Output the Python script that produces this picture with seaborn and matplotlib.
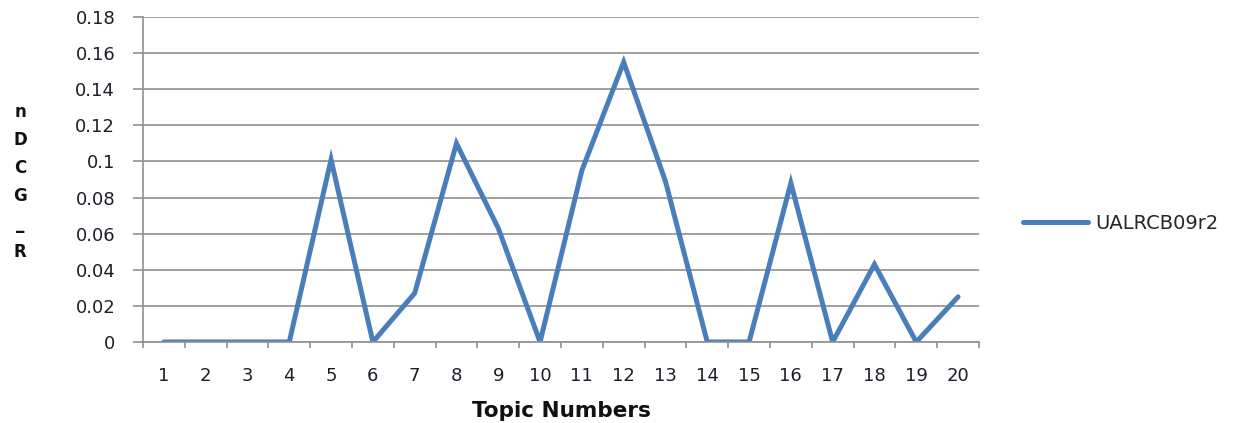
import matplotlib
matplotlib.use("Agg")
import matplotlib.pyplot as plt
import seaborn as sns
import pandas as pd
from matplotlib.ticker import FixedLocator, MultipleLocator

topics = list(range(1, 21))
ndcg_r = [0, 0, 0, 0, 0.101, 0, 0.027, 0.110, 0.063, 0,
          0.095, 0.155, 0.089, 0, 0, 0.088, 0, 0.043, 0, 0.025]
series_name = "UALRCB09r2"

df = pd.DataFrame({"topic": topics, "value": ndcg_r, "run": series_name})

sns.set_style("white")
plt.rcParams["font.family"] = ["DejaVu Sans"]

fig = plt.figure(figsize=(12.53, 4.23), dpi=100)
ax = fig.add_axes([0.1141, 0.1915, 0.6672, 0.7683])

line_color = "#4A7EBB"
grid_color = "#909090"
text_color = "#1E1E2A"

sns.lineplot(data=df, x="topic", y="value", hue="run", palette=[line_color],
             linewidth=3.6, ax=ax, legend=False, solid_joinstyle="miter")

ax.set_xlim(0.5, 20.5)
ax.set_ylim(0, 0.18)
ax.yaxis.set_major_locator(MultipleLocator(0.02))
ax.set_yticklabels([f"{v:g}" for v in ax.get_yticks()])
ax.yaxis.grid(True, color=grid_color, linewidth=1.2)
ax.set_axisbelow(True)

ax.set_xticks(topics)
ax.set_xticklabels([str(t) for t in topics])
ax.xaxis.set_minor_locator(FixedLocator([i + 0.5 for i in range(0, 21)]))
ax.tick_params(axis="x", which="major", length=0, pad=18, labelsize=13, colors=text_color)
ax.tick_params(axis="x", which="minor", length=4.5, width=1.2, color=grid_color, bottom=True)
ax.tick_params(axis="y", which="major", length=7, width=1.2, color=grid_color,
               left=True, pad=13, labelsize=13, labelcolor=text_color)

for side in ["top", "right"]:
    ax.spines[side].set_visible(False)
for side in ["left", "bottom"]:
    ax.spines[side].set_color(grid_color)
    ax.spines[side].set_linewidth(1.2)

ax.set_xlabel("")
ax.set_ylabel("")
fig.text(0.448, 0.004, "Topic Numbers", ha="center", va="bottom",
         fontsize=15.5, fontweight="bold", color="#111111")
fig.text(0.016, 0.57, "n\nD\nC\nG\n_\nR", ha="center", va="center",
         fontsize=12, fontweight="bold", color="#111111", linespacing=1.72)

handle = plt.Line2D([], [], color=line_color, linewidth=3.6)
fig.legend([handle], [series_name], loc="center left",
           bbox_to_anchor=(0.8025, 0.4728), frameon=False, fontsize=14,
           handlelength=3.34, handletextpad=0.36)

fig.savefig("out.png", dpi=100)
